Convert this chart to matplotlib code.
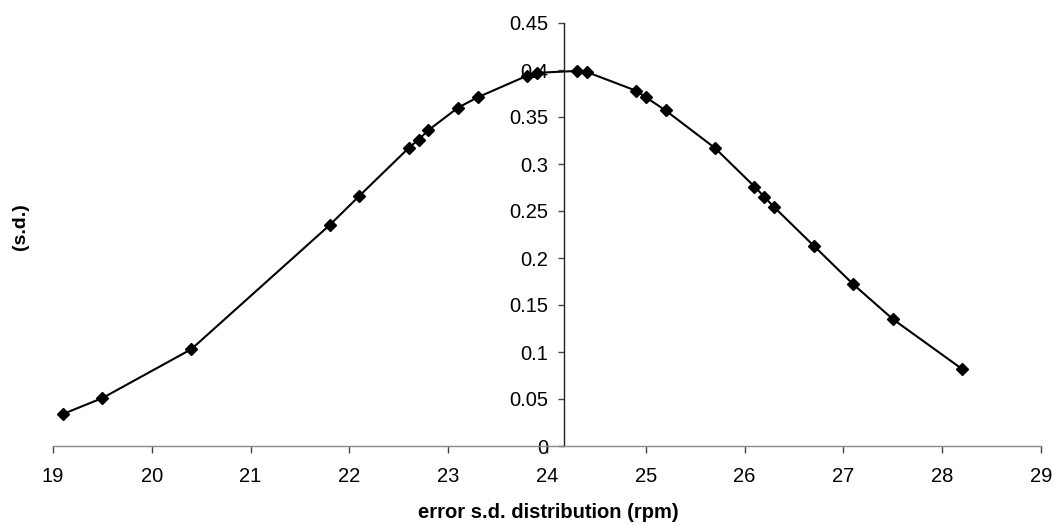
import matplotlib
matplotlib.use("Agg")
import matplotlib.pyplot as plt

plt.rcParams['font.family'] = ['Liberation Sans', 'DejaVu Sans']

# error s.d. values (rpm) and the corresponding density (s.d.)
error_sd = [19.1, 19.5, 20.4, 21.8, 22.1, 22.6, 22.7, 22.8, 23.1, 23.3, 23.8, 23.9,
            24.3, 24.4, 24.9, 25.0, 25.2, 25.7, 26.1, 26.2, 26.3, 26.7, 27.1, 27.5, 28.2]
density = [0.034, 0.051, 0.103, 0.235, 0.266, 0.317, 0.326, 0.336, 0.360, 0.371, 0.394, 0.397,
           0.399, 0.398, 0.378, 0.371, 0.357, 0.317, 0.276, 0.265, 0.254, 0.213, 0.172, 0.135, 0.082]

x_ticks = list(range(19, 30))
y_ticks = [0, 0.05, 0.1, 0.15, 0.2, 0.25, 0.3, 0.35, 0.4, 0.45]
y_tick_labels = ["0", "0.05", "0.1", "0.15", "0.2", "0.25", "0.3", "0.35", "0.4", "0.45"]

fig = plt.figure(figsize=(10.54, 5.25), dpi=100)
ax = fig.add_axes([53 / 1054, 1 - 446 / 525, (1041 - 53) / 1054, (446 - 23) / 525])

ax.plot(error_sd, density, color='black', linewidth=1.5, marker='D',
        markersize=6.5, markerfacecolor='black', markeredgecolor='black', clip_on=False)

ax.set_xlim(19, 29)
ax.set_ylim(0, 0.45)
ax.set_xticks(x_ticks)
ax.set_xticklabels([str(t) for t in x_ticks])
ax.set_yticks(y_ticks)
ax.set_yticklabels(y_tick_labels)

# vertical axis crosses the horizontal one inside the data range
ax.spines['left'].set_position(('data', 24.17))
ax.spines['left'].set_color('#222222')
ax.spines['left'].set_linewidth(1.0)
ax.spines['bottom'].set_color('#888888')
ax.spines['bottom'].set_linewidth(1.0)
ax.spines['top'].set_visible(False)
ax.spines['right'].set_visible(False)

ax.tick_params(axis='x', direction='out', length=5, width=1.0, color='#444444',
               labelsize=14.5, pad=10)
ax.tick_params(axis='y', direction='out', length=4, width=1.0, color='#444444',
               labelsize=14.5, pad=7)

fig.text(548 / 1054, 1 - 512 / 525, "error s.d. distribution (rpm)", ha='center', va='center',
         fontsize=14.5, fontweight='bold')
fig.text(20 / 1054, 1 - 227 / 525, "(s.d.)", ha='center', va='center', rotation=90,
         fontsize=14, fontweight='bold')

fig.savefig("out.png", dpi=100, facecolor='white')
